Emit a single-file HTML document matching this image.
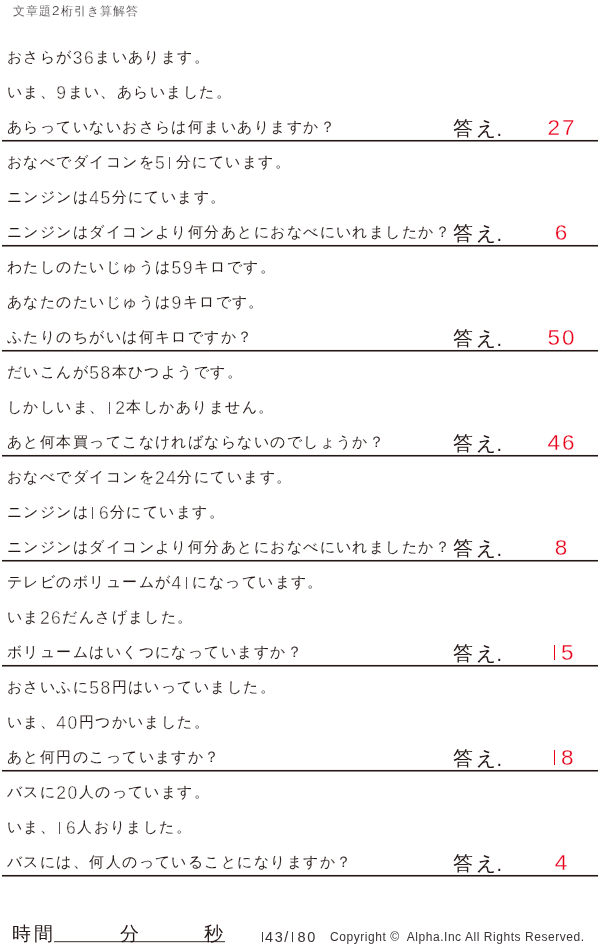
<!DOCTYPE html><html lang="ja"><head><meta charset="utf-8"><style>
*{margin:0;padding:0;box-sizing:border-box}
html,body{width:600px;height:949px;background:#fff;overflow:hidden}
body{position:relative;font-family:"Liberation Sans",sans-serif;color:#231815}
.t{position:absolute;white-space:nowrap;will-change:transform}
.title{left:13px;top:3px;font-size:12px;letter-spacing:1.0px;color:#2e2828;-webkit-text-stroke:0.2px #fff}
.row{left:7px;font-size:15px;letter-spacing:1.45px;line-height:20px;-webkit-text-stroke:0.05px #fff;color:#231815}
.d{vertical-align:-1.5px;font-size:17.5px;letter-spacing:1.4px;-webkit-text-stroke:0.45px #fff}
.o{display:inline-block;width:.55em;height:.69em;vertical-align:-.5px;background:linear-gradient(#5a5050,#5a5050) 36% 0/1.1px 100% no-repeat}
.ans{left:453px;font-size:20px;letter-spacing:3px;line-height:24px}
.num{width:60px;text-align:center;font-size:22.5px;color:#e8001a;line-height:24px;letter-spacing:2px;-webkit-text-stroke:0.3px #fff}
.num .o{width:.556em;height:.68em;vertical-align:0;background:linear-gradient(#e8001a,#e8001a) 50% 0/1.3px 100% no-repeat}
.hr{position:absolute;left:2px;width:596px;height:2px;background:#231815;border-bottom:1px solid #8c8483;box-shadow:0 -1px 0 #f4f2f2}
</style></head><body>
<div class="t title">文章題<span style="font-size:13.5px;letter-spacing:1.5px">2</span>桁引き算解答</div>
<div class="t row" style="top:47px">おさらが<span class="d">36</span>まいあります。</div>
<div class="t row" style="top:82px">いま、<span class="d">9</span>まい、あらいました。</div>
<div class="t row" style="top:117px">あらっていないおさらは何まいありますか？</div>
<div class="t ans" style="top:116px">答え<span style="margin-left:-2.5px;position:relative;top:1px">.</span></div>
<div class="t num" style="left:532px;top:116px">27</div>
<div class="hr" style="top:140px"></div>
<div class="t row" style="top:152px">おなべでダイコンを<span class="d">5<span class="o"></span></span>分にています。</div>
<div class="t row" style="top:187px">ニンジンは<span class="d">45</span>分にています。</div>
<div class="t row" style="top:222px">ニンジンはダイコンより何分あとにおなべにいれましたか？</div>
<div class="t ans" style="top:221px">答え<span style="margin-left:-2.5px;position:relative;top:1px">.</span></div>
<div class="t num" style="left:532px;top:221px">6</div>
<div class="hr" style="top:245px"></div>
<div class="t row" style="top:257px">わたしのたいじゅうは<span class="d">59</span>キロです。</div>
<div class="t row" style="top:292px">あなたのたいじゅうは<span class="d">9</span>キロです。</div>
<div class="t row" style="top:327px">ふたりのちがいは何キロですか？</div>
<div class="t ans" style="top:326px">答え<span style="margin-left:-2.5px;position:relative;top:1px">.</span></div>
<div class="t num" style="left:532px;top:326px">50</div>
<div class="hr" style="top:350px"></div>
<div class="t row" style="top:362px">だいこんが<span class="d">58</span>本ひつようです。</div>
<div class="t row" style="top:397px">しかしいま、<span class="d"><span class="o"></span>2</span>本しかありません。</div>
<div class="t row" style="top:432px">あと何本買ってこなければならないのでしょうか？</div>
<div class="t ans" style="top:431px">答え<span style="margin-left:-2.5px;position:relative;top:1px">.</span></div>
<div class="t num" style="left:532px;top:431px">46</div>
<div class="hr" style="top:455px"></div>
<div class="t row" style="top:467px">おなべでダイコンを<span class="d">24</span>分にています。</div>
<div class="t row" style="top:502px">ニンジンは<span class="d"><span class="o"></span>6</span>分にています。</div>
<div class="t row" style="top:537px">ニンジンはダイコンより何分あとにおなべにいれましたか？</div>
<div class="t ans" style="top:536px">答え<span style="margin-left:-2.5px;position:relative;top:1px">.</span></div>
<div class="t num" style="left:532px;top:536px">8</div>
<div class="hr" style="top:560px"></div>
<div class="t row" style="top:572px">テレビのボリュームが<span class="d">4<span class="o"></span></span>になっています。</div>
<div class="t row" style="top:607px">いま<span class="d">26</span>だんさげました。</div>
<div class="t row" style="top:642px">ボリュームはいくつになっていますか？</div>
<div class="t ans" style="top:641px">答え<span style="margin-left:-2.5px;position:relative;top:1px">.</span></div>
<div class="t num" style="left:532px;top:641px"><span class="o"></span>5</div>
<div class="hr" style="top:665px"></div>
<div class="t row" style="top:677px">おさいふに<span class="d">58</span>円はいっていました。</div>
<div class="t row" style="top:712px">いま、<span class="d">40</span>円つかいました。</div>
<div class="t row" style="top:747px">あと何円のこっていますか？</div>
<div class="t ans" style="top:746px">答え<span style="margin-left:-2.5px;position:relative;top:1px">.</span></div>
<div class="t num" style="left:532px;top:746px"><span class="o"></span>8</div>
<div class="hr" style="top:770px"></div>
<div class="t row" style="top:782px">バスに<span class="d">20</span>人のっています。</div>
<div class="t row" style="top:817px">いま、<span class="d"><span class="o"></span>6</span>人おりました。</div>
<div class="t row" style="top:852px">バスには、何人のっていることになりますか？</div>
<div class="t ans" style="top:851px">答え<span style="margin-left:-2.5px;position:relative;top:1px">.</span></div>
<div class="t num" style="left:532px;top:851px">4</div>
<div class="hr" style="top:875px"></div>
<div class="t" style="left:12px;top:923px;font-size:19px;letter-spacing:2.5px;line-height:22px">時間</div>
<div style="position:absolute;left:54px;top:941px;width:171px;height:2px;background:#5d5453;border-bottom:1px solid #dcd8d8"></div>
<div class="t" style="left:120px;top:924px;font-size:19px;line-height:20px">分</div>
<div class="t" style="left:204px;top:924px;font-size:19px;line-height:20px">秒</div>
<div class="t" style="left:261px;top:930px;font-size:14.5px;letter-spacing:1.6px;line-height:14px;color:#3a3434"><span class="o" style="width:4px;margin-left:-1px;margin-right:1px;height:.7em;vertical-align:0;background-image:linear-gradient(#3a3434,#3a3434);background-position:75% 0"></span>43/<span class="o" style="width:4px;margin-right:3.5px;height:.7em;vertical-align:0;background-image:linear-gradient(#3a3434,#3a3434);background-position:75% 0"></span>80</div>
<div class="t" style="left:330px;top:930px;font-size:12px;letter-spacing:0.55px;line-height:14px;color:#3a3434">Copyright ©&nbsp; Alpha.Inc All Rights Reserved.</div>

</body></html>
